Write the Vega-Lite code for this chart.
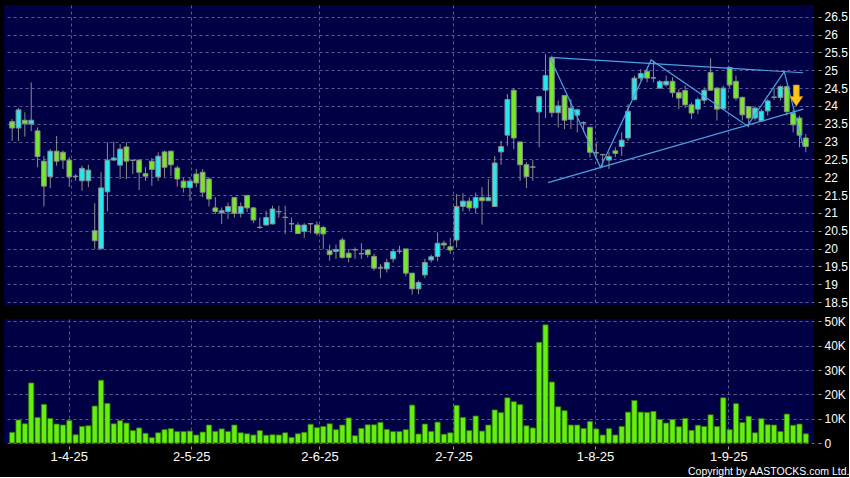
{
"$schema": "https://vega.github.io/schema/vega-lite/v6.json",
"background": "#000000",
"padding": {"left": 4, "top": 5, "right": 0, "bottom": 0},
"bounds": "flush",
"spacing": 14,
"config": {
  "view": {"fill": "#000044", "stroke": null},
  "axis": {"gridColor": "#5a5a96", "gridDash": [3, 3], "gridWidth": 1, "domain": false, "labelColor": "#ffffff", "labelFont": "Liberation Sans", "tickColor": "#a0a0a0", "labelOverlap": false}
},
"datasets": {
  "k": [
    {"i":0,"o":23.56,"h":23.63,"l":23.02,"c":23.38,"v":4400},
    {"i":1,"o":23.38,"h":23.94,"l":23.02,"c":23.89,"v":9500},
    {"i":2,"o":23.60,"h":23.82,"l":23.14,"c":23.50,"v":7900},
    {"i":3,"o":23.49,"h":24.66,"l":23.29,"c":23.60,"v":24700},
    {"i":4,"o":23.30,"h":23.40,"l":22.28,"c":22.58,"v":10500},
    {"i":5,"o":22.45,"h":22.60,"l":21.18,"c":21.75,"v":15900},
    {"i":6,"o":22.02,"h":22.79,"l":21.69,"c":22.73,"v":10100},
    {"i":7,"o":22.73,"h":23.16,"l":22.32,"c":22.45,"v":7800},
    {"i":8,"o":22.70,"h":22.75,"l":22.23,"c":22.48,"v":7400},
    {"i":9,"o":22.48,"h":22.56,"l":21.73,"c":22.01,"v":9300},
    {"i":10,"o":22.02,"h":22.09,"l":21.90,"c":22.03,"v":3400},
    {"i":11,"o":21.90,"h":22.32,"l":21.62,"c":22.25,"v":6800},
    {"i":12,"o":21.90,"h":22.35,"l":21.72,"c":22.20,"v":7100},
    {"i":13,"o":20.50,"h":21.27,"l":19.99,"c":20.22,"v":15200},
    {"i":14,"o":20.00,"h":22.14,"l":19.96,"c":21.70,"v":25800},
    {"i":15,"o":21.59,"h":22.98,"l":21.04,"c":22.48,"v":16300},
    {"i":16,"o":22.48,"h":23.00,"l":22.46,"c":22.54,"v":7900},
    {"i":17,"o":22.34,"h":22.93,"l":21.95,"c":22.79,"v":9200},
    {"i":18,"o":22.85,"h":22.98,"l":21.95,"c":22.45,"v":8200},
    {"i":19,"o":22.47,"h":22.48,"l":22.09,"c":22.48,"v":5100},
    {"i":20,"o":22.48,"h":22.50,"l":21.64,"c":22.14,"v":6200},
    {"i":21,"o":22.10,"h":22.28,"l":21.90,"c":22.03,"v":4000},
    {"i":22,"o":22.45,"h":22.54,"l":21.76,"c":22.22,"v":2200},
    {"i":23,"o":22.01,"h":22.70,"l":21.90,"c":22.59,"v":4200},
    {"i":24,"o":22.71,"h":22.75,"l":22.01,"c":22.28,"v":5500},
    {"i":25,"o":22.73,"h":22.75,"l":22.04,"c":22.35,"v":5900},
    {"i":26,"o":22.26,"h":22.32,"l":21.74,"c":21.95,"v":4700},
    {"i":27,"o":21.89,"h":21.99,"l":21.57,"c":21.71,"v":4700},
    {"i":28,"o":21.71,"h":21.99,"l":21.34,"c":21.89,"v":4900},
    {"i":29,"o":22.09,"h":22.23,"l":21.72,"c":21.84,"v":3300},
    {"i":30,"o":22.14,"h":22.23,"l":21.44,"c":21.58,"v":4500},
    {"i":31,"o":21.95,"h":22.00,"l":21.18,"c":21.39,"v":7400},
    {"i":32,"o":21.14,"h":21.44,"l":20.97,"c":21.04,"v":4800},
    {"i":33,"o":21.00,"h":21.15,"l":20.69,"c":21.06,"v":5800},
    {"i":34,"o":21.04,"h":21.29,"l":20.83,"c":21.18,"v":4700},
    {"i":35,"o":21.43,"h":21.45,"l":20.87,"c":20.99,"v":7400},
    {"i":36,"o":20.99,"h":21.29,"l":20.87,"c":21.18,"v":4200},
    {"i":37,"o":21.49,"h":21.50,"l":21.02,"c":21.14,"v":3800},
    {"i":38,"o":21.14,"h":21.16,"l":20.71,"c":20.80,"v":3300},
    {"i":39,"o":20.59,"h":20.87,"l":20.55,"c":20.60,"v":5100},
    {"i":40,"o":20.66,"h":21.06,"l":20.65,"c":20.87,"v":3200},
    {"i":41,"o":20.69,"h":21.20,"l":20.68,"c":21.11,"v":3400},
    {"i":42,"o":21.03,"h":21.20,"l":20.87,"c":21.04,"v":3300},
    {"i":43,"o":20.87,"h":21.20,"l":20.41,"c":20.88,"v":4200},
    {"i":44,"o":20.69,"h":20.87,"l":20.50,"c":20.70,"v":2300},
    {"i":45,"o":20.66,"h":20.73,"l":20.41,"c":20.42,"v":3800},
    {"i":46,"o":20.48,"h":20.71,"l":20.30,"c":20.66,"v":4400},
    {"i":47,"o":20.69,"h":20.71,"l":20.43,"c":20.70,"v":7700},
    {"i":48,"o":20.66,"h":20.76,"l":20.36,"c":20.43,"v":6300},
    {"i":49,"o":20.59,"h":20.64,"l":19.99,"c":20.41,"v":6800},
    {"i":50,"o":19.94,"h":20.11,"l":19.66,"c":19.83,"v":7900},
    {"i":51,"o":19.92,"h":20.11,"l":19.71,"c":19.97,"v":5500},
    {"i":52,"o":20.24,"h":20.30,"l":19.71,"c":19.75,"v":7400},
    {"i":53,"o":19.87,"h":19.99,"l":19.61,"c":19.75,"v":10300},
    {"i":54,"o":19.96,"h":20.03,"l":19.71,"c":19.97,"v":3000},
    {"i":55,"o":19.85,"h":20.15,"l":19.71,"c":19.86,"v":6000},
    {"i":56,"o":19.96,"h":19.98,"l":19.75,"c":19.83,"v":7500},
    {"i":57,"o":19.78,"h":19.85,"l":19.38,"c":19.45,"v":7500},
    {"i":58,"o":19.45,"h":19.57,"l":19.17,"c":19.46,"v":8500},
    {"i":59,"o":19.43,"h":19.71,"l":19.33,"c":19.61,"v":5600},
    {"i":60,"o":19.71,"h":19.99,"l":19.61,"c":19.92,"v":4700},
    {"i":61,"o":19.92,"h":20.08,"l":19.85,"c":19.93,"v":4700},
    {"i":62,"o":19.99,"h":19.99,"l":19.22,"c":19.31,"v":5500},
    {"i":63,"o":19.31,"h":19.31,"l":18.71,"c":18.87,"v":15600},
    {"i":64,"o":18.87,"h":19.10,"l":18.72,"c":19.05,"v":3700},
    {"i":65,"o":19.26,"h":19.71,"l":19.17,"c":19.61,"v":7800},
    {"i":66,"o":19.68,"h":19.83,"l":19.61,"c":19.77,"v":4800},
    {"i":67,"o":19.78,"h":20.45,"l":19.64,"c":20.15,"v":8600},
    {"i":68,"o":20.15,"h":20.22,"l":19.99,"c":20.10,"v":3600},
    {"i":69,"o":20.05,"h":20.30,"l":19.85,"c":19.96,"v":4200},
    {"i":70,"o":20.24,"h":21.53,"l":20.03,"c":21.18,"v":15500},
    {"i":71,"o":21.18,"h":21.55,"l":21.04,"c":21.33,"v":10500},
    {"i":72,"o":21.33,"h":21.43,"l":21.04,"c":21.14,"v":5100},
    {"i":73,"o":21.14,"h":21.57,"l":20.99,"c":21.43,"v":11100},
    {"i":74,"o":21.43,"h":21.72,"l":20.67,"c":21.34,"v":4900},
    {"i":75,"o":21.34,"h":21.95,"l":21.34,"c":21.43,"v":7400},
    {"i":76,"o":21.18,"h":22.60,"l":21.18,"c":22.40,"v":13600},
    {"i":77,"o":22.71,"h":23.02,"l":22.35,"c":22.86,"v":12500},
    {"i":78,"o":23.18,"h":24.33,"l":22.88,"c":24.18,"v":18600},
    {"i":79,"o":24.44,"h":24.50,"l":22.79,"c":23.10,"v":17000},
    {"i":80,"o":22.99,"h":22.99,"l":21.90,"c":22.35,"v":15800},
    {"i":81,"o":22.35,"h":22.42,"l":21.70,"c":22.02,"v":7100},
    {"i":82,"o":22.28,"h":22.48,"l":21.90,"c":22.29,"v":6200},
    {"i":83,"o":23.83,"h":24.29,"l":22.84,"c":24.26,"v":41400},
    {"i":84,"o":24.44,"h":25.45,"l":23.66,"c":24.85,"v":48600},
    {"i":85,"o":25.34,"h":25.41,"l":23.68,"c":23.81,"v":25100},
    {"i":86,"o":23.81,"h":24.15,"l":23.40,"c":24.00,"v":14900},
    {"i":87,"o":24.29,"h":24.29,"l":23.35,"c":23.60,"v":13300},
    {"i":88,"o":23.62,"h":24.19,"l":23.35,"c":23.94,"v":7400},
    {"i":89,"o":23.74,"h":23.92,"l":23.26,"c":23.89,"v":7400},
    {"i":90,"o":23.52,"h":23.57,"l":23.26,"c":23.53,"v":6000},
    {"i":91,"o":23.40,"h":23.40,"l":22.56,"c":22.70,"v":8900},
    {"i":92,"o":22.68,"h":22.95,"l":22.56,"c":22.69,"v":5800},
    {"i":93,"o":22.63,"h":22.63,"l":22.28,"c":22.64,"v":3300},
    {"i":94,"o":22.48,"h":22.70,"l":22.23,"c":22.58,"v":5900},
    {"i":95,"o":22.74,"h":22.84,"l":22.56,"c":22.67,"v":3300},
    {"i":96,"o":22.86,"h":23.26,"l":22.60,"c":23.04,"v":6800},
    {"i":97,"o":23.10,"h":24.05,"l":23.02,"c":23.85,"v":12700},
    {"i":98,"o":24.18,"h":24.85,"l":24.15,"c":24.78,"v":17500},
    {"i":99,"o":24.78,"h":25.03,"l":24.71,"c":24.91,"v":12700},
    {"i":100,"o":24.97,"h":25.03,"l":24.66,"c":24.78,"v":12600},
    {"i":101,"o":24.78,"h":25.27,"l":24.66,"c":24.79,"v":13000},
    {"i":102,"o":24.50,"h":24.73,"l":24.47,"c":24.68,"v":9700},
    {"i":103,"o":24.59,"h":24.85,"l":24.54,"c":24.69,"v":8200},
    {"i":104,"o":24.69,"h":24.80,"l":24.24,"c":24.37,"v":9700},
    {"i":105,"o":24.37,"h":24.47,"l":23.91,"c":24.22,"v":6700},
    {"i":106,"o":24.43,"h":24.57,"l":23.94,"c":24.03,"v":10100},
    {"i":107,"o":24.03,"h":24.10,"l":23.63,"c":23.80,"v":5200},
    {"i":108,"o":23.91,"h":24.24,"l":23.77,"c":24.18,"v":7300},
    {"i":109,"o":24.16,"h":24.52,"l":24.05,"c":24.44,"v":6800},
    {"i":110,"o":24.94,"h":25.34,"l":24.43,"c":24.44,"v":11600},
    {"i":111,"o":24.50,"h":24.52,"l":23.59,"c":23.91,"v":6800},
    {"i":112,"o":23.92,"h":24.57,"l":23.91,"c":24.50,"v":18600},
    {"i":113,"o":25.08,"h":25.10,"l":24.50,"c":24.59,"v":5500},
    {"i":114,"o":24.69,"h":24.85,"l":24.15,"c":24.22,"v":16200},
    {"i":115,"o":24.24,"h":24.26,"l":23.59,"c":23.75,"v":8400},
    {"i":116,"o":23.98,"h":24.00,"l":23.40,"c":23.66,"v":11000},
    {"i":117,"o":23.66,"h":23.98,"l":23.59,"c":23.94,"v":4200},
    {"i":118,"o":23.58,"h":23.91,"l":23.54,"c":23.85,"v":10000},
    {"i":119,"o":23.86,"h":24.19,"l":23.73,"c":24.14,"v":7500},
    {"i":120,"o":24.24,"h":24.50,"l":24.16,"c":24.25,"v":7400},
    {"i":121,"o":24.24,"h":24.57,"l":24.15,"c":24.54,"v":4700},
    {"i":122,"o":24.54,"h":24.57,"l":23.73,"c":23.84,"v":11900},
    {"i":123,"o":23.79,"h":23.87,"l":23.26,"c":23.47,"v":7300},
    {"i":124,"o":23.66,"h":23.73,"l":22.84,"c":23.18,"v":7800},
    {"i":125,"o":23.10,"h":23.21,"l":22.70,"c":22.86,"v":3800}
  ],
  "tl": [
    {"g":"upper","k":0,"x":84.7,"p":25.36},
    {"g":"upper","k":1,"x":124.6,"p":24.93},
    {"g":"lower","k":0,"x":84.4,"p":21.85},
    {"g":"lower","k":1,"x":124.6,"p":23.91},
    {"g":"zig","k":0,"x":84.7,"p":25.36},
    {"g":"zig","k":1,"x":92.66,"p":22.27},
    {"g":"zig","k":2,"x":100.64,"p":25.29},
    {"g":"zig","k":3,"x":115.8,"p":23.44},
    {"g":"zig","k":4,"x":121.6,"p":24.96},
    {"g":"zig","k":5,"x":124.6,"p":22.86}
  ],
  "arr": [{"x":123.5,"p":24.29}]
},
"vconcat": [
  {
    "width": 810, "height": 300,
    "layer": [
      {
        "data": {"name": "k"},
        "mark": {"type": "rule", "color": "#8c8c8c", "strokeWidth": 1},
        "encoding": {
          "x": {"field": "i", "type": "quantitative", "title": null,
                "scale": {"domain": [-0.5, 125.5], "nice": false, "zero": false},
                "axis": {"orient": "bottom", "values": [9.2, 28.2, 48.4, 69.5, 91.8, 112.8], "tickCount": 50, "labels": false, "ticks": false, "grid": true, "title": null}},
          "y": {"field": "l", "type": "quantitative", "title": null,
                "scale": {"domain": [18.417, 26.83], "nice": false, "zero": false},
                "axis": {"orient": "right", "values": [18.5,19,19.5,20,20.5,21,21.5,22,22.5,23,23.5,24,24.5,25,25.5,26,26.5], "tickCount": 50, "format": ".1~f", "grid": true, "ticks": true, "tickSize": 3, "offset": 4, "labelPadding": 3, "labelFontSize": 12, "labelOverlap": false, "title": null}},
          "y2": {"field": "h"}
        }
      },
      {
        "data": {"name": "k"},
        "mark": {"type": "bar", "width": 4.8, "stroke": "#8c8c8c", "strokeWidth": 1},
        "encoding": {
          "x": {"field": "i", "type": "quantitative", "title": null},
          "y": {"field": "o", "type": "quantitative", "title": null},
          "y2": {"field": "c"},
          "color": {"condition": {"test": "datum.c > datum.o", "value": "#22eaf0"}, "value": "#74e82a"}
        }
      },
      {
        "data": {"name": "tl"},
        "mark": {"type": "line", "color": "#4aa3e3", "strokeWidth": 1.2},
        "encoding": {
          "x": {"field": "x", "type": "quantitative", "title": null},
          "y": {"field": "p", "type": "quantitative", "title": null},
          "detail": {"field": "g"},
          "order": {"field": "k"}
        }
      },
      {
        "data": {"name": "arr"},
        "mark": {"type": "point", "shape": "M-0.28,-1L0.28,-1L0.28,0.1L0.62,0.1L0,1L-0.62,0.1L-0.28,0.1Z", "size": 441, "filled": true, "fill": "#ffc61a", "stroke": "#e08a00", "strokeWidth": 0.6, "opacity": 1},
        "encoding": {
          "x": {"field": "x", "type": "quantitative", "title": null},
          "y": {"field": "p", "type": "quantitative", "title": null}
        }
      }
    ]
  },
  {
    "width": 810, "height": 124,
    "data": {"name": "k"},
    "mark": {"type": "bar", "width": 5.2, "fill": "#66ee11", "stroke": "#2e7a00", "strokeWidth": 0.8},
    "encoding": {
      "x": {"field": "i", "type": "quantitative",
            "scale": {"domain": [-0.5, 125.5], "nice": false, "zero": false},
            "axis": {"orient": "bottom", "values": [8.9, 28.2, 48.4, 69.5, 91.8, 112.8], "tickCount": 50,
                     "labelExpr": "datum.value < 15 ? '1-4-25' : datum.value < 35 ? '2-5-25' : datum.value < 55 ? '2-6-25' : datum.value < 80 ? '2-7-25' : datum.value < 100 ? '1-8-25' : '1-9-25'",
                     "grid": true, "ticks": true, "tickSize": 3, "offset": 3, "labelPadding": 1, "labelFontSize": 13,
                     "title": "Copyright by AASTOCKS.com Ltd.", "titleX": 845, "titleY": 28, "titleAlign": "right", "titleAnchor": "end", "titleBaseline": "alphabetic",
                     "titleFont": "Liberation Sans", "titleFontSize": 10.5, "titleFontWeight": "normal", "titleColor": "#ffffff"}},
      "y": {"field": "v", "type": "quantitative", "title": null,
            "scale": {"domain": [0, 51000], "nice": false},
            "axis": {"orient": "right", "values": [0, 10000, 20000, 30000, 40000, 50000], "tickCount": 50,
                     "labelExpr": "datum.value == 0 ? '0' : (datum.value / 1000) + 'K'",
                     "grid": true, "ticks": true, "tickSize": 3, "offset": 4, "labelPadding": 3, "labelFontSize": 12}}
    }
  }
]
}
